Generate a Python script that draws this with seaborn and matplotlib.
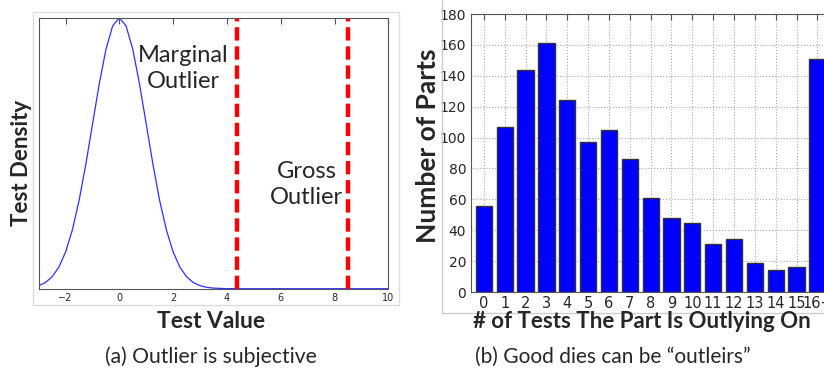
import matplotlib
matplotlib.use("Agg")
import matplotlib.pyplot as plt
import seaborn as sns
import pandas as pd
from matplotlib.patches import Rectangle
from matplotlib.lines import Line2D

# left panel: density curve
test_value = [-3.0, -2.75, -2.5, -2.25, -2.0, -1.75, -1.5, -1.25, -1.0, -0.75, -0.5, -0.25,
              0.0, 0.25, 0.5, 0.75, 1.0, 1.25, 1.5, 1.75, 2.0, 2.25, 2.5, 2.75,
              3.0, 3.25, 3.5, 3.75, 4.0, 4.5, 10.0]
test_density = [0.0044, 0.0091, 0.0175, 0.0317, 0.0540, 0.0863, 0.1295, 0.1826, 0.2420, 0.3011, 0.3521, 0.3867,
                0.3989, 0.3867, 0.3521, 0.3011, 0.2420, 0.1826, 0.1295, 0.0863, 0.0540, 0.0317, 0.0175, 0.0091,
                0.0044, 0.0020, 0.0009, 0.0004, 0.0001, 0.0, 0.0]
cutoffs = [4.36, 8.5]
cutoff_names = ["Marginal\nOutlier", "Gross\nOutlier"]

# right panel: histogram of outlying tests
n_tests = ["0", "1", "2", "3", "4", "5", "6", "7", "8", "9", "10",
           "11", "12", "13", "14", "15", "16+"]
n_parts = [56, 107, 144, 161, 124, 97, 105, 86, 61, 48, 45, 31, 34, 19, 14, 16, 151]

sns.set_style("white")
plt.rcParams['font.family'] = ['DejaVu Sans']
label_font = ['Lato', 'DejaVu Sans']

W, H = 824, 368
fig = plt.figure(figsize=(W / 100, H / 100), dpi=100)

def fx(px):
    return px / W

def fy(py):
    return 1 - py / H

# panel frames
fig.patches.append(Rectangle((fx(33), fy(305)), fx(399 - 33), fy(12) - fy(305),
                             transform=fig.transFigure, fill=False, edgecolor='#dddddd', lw=1))
fig.lines.append(Line2D([fx(442), fx(442)], [fy(313), fy(0)], transform=fig.transFigure, color='#cccccc', lw=1))
fig.lines.append(Line2D([fx(442), fx(824)], [fy(313), fy(313)], transform=fig.transFigure, color='#cccccc', lw=1))

# ---- (a) ----
ax1 = fig.add_axes([fx(38.7), fy(288.7), fx(388.3 - 38.7), fy(17.7) - fy(288.7)])
sns.lineplot(x=test_value, y=test_density, ax=ax1, color='#3030ff', lw=0.9)
for c in cutoffs:
    ax1.axvline(c, color='#ff0000', lw=3.2, ls=(0, (3, 1.3)))
ax1.set_xlim(-3, 10)
ax1.set_ylim(0, max(test_density))
ax1.set_xticks([-2, 0, 2, 4, 6, 8, 10])
ax1.set_yticks([])
ax1.tick_params(axis='x', direction='in', top=True, length=4, labelsize=7, pad=3, color='#555555')
for s in ax1.spines.values():
    s.set_color('#555555')
ax1.text(2.39, 0.8125, cutoff_names[0], transform=ax1.get_xaxis_transform(), ha='center', va='center',
         fontsize=17, family=label_font, linespacing=1.3)
ax1.text(6.97, 0.383, cutoff_names[1], transform=ax1.get_xaxis_transform(), ha='center', va='center',
         fontsize=17, family=label_font, linespacing=1.3)

fig.text(fx(22), fy(163), "Test Density", rotation=90, ha='center', va='center',
         fontsize=16, fontweight='bold', family=label_font)
fig.text(fx(211), fy(321), "Test Value", ha='center', va='center',
         fontsize=16.5, fontweight='bold', family=label_font)
fig.text(fx(211), fy(357), "(a) Outlier is subjective", ha='center', va='center',
         fontsize=15.2, family=label_font)

# ---- (b) ----
px_unit = 20.84
ax2 = fig.add_axes([fx(471), fy(292), fx(17.24 * px_unit), fy(14) - fy(292)])
df = pd.DataFrame({"tests": n_tests, "parts": n_parts})
sns.barplot(data=df, x="tests", y="parts", ax=ax2, color='#0000ff', saturation=1,
            width=0.78, edgecolor='#333333', linewidth=1)
ax2.set_xlim(-0.62, 16.62)
ax2.set_ylim(0, 180)
ax2.set_yticks(range(0, 181, 20))
ax2.set_xlabel("")
ax2.set_ylabel("")
ax2.grid(True, ls=':', color='#aaaaaa', lw=0.8)
ax2.set_axisbelow(True)
ax2.tick_params(direction='in', top=True, right=True, length=4, labelsize=10, color='#555555')
ax2.tick_params(axis='x', pad=3, labelsize=10.5)
for s in ax2.spines.values():
    s.set_color('#555555')

fig.text(fx(428), fy(146), "Number of Parts", rotation=90, ha='center', va='center',
         fontsize=19, fontweight='bold', family=label_font)
fig.text(fx(473), fy(322), "# of Tests The Part Is Outlying On", ha='left', va='center',
         fontsize=16, fontweight='bold', family=label_font)
fig.text(fx(475), fy(357), "(b) Good dies can be \u201coutleirs\u201d", ha='left', va='center',
         fontsize=15, family=label_font)

fig.savefig("out.png", dpi=100)
